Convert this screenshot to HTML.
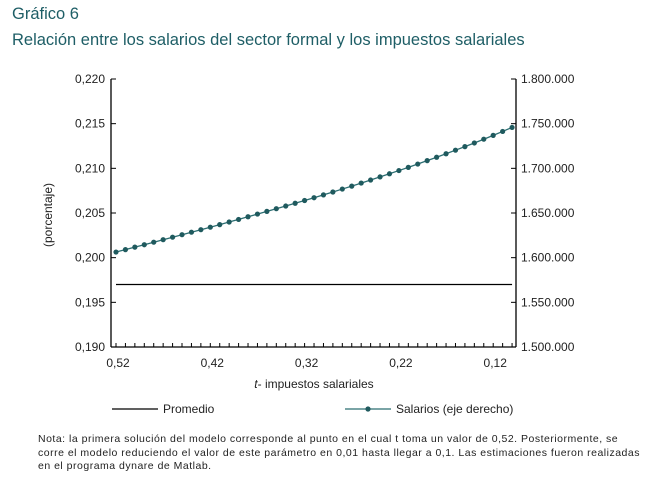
<!DOCTYPE html>
<html><head><meta charset="utf-8"><style>
body{margin:0;background:#fff;width:653px;height:484px;overflow:hidden;font-family:"Liberation Sans",sans-serif;}
.t{position:absolute;left:12px;color:#1e5e66;font-size:16.5px;}
.note{position:absolute;left:38px;top:433px;width:610px;font-size:10.5px;letter-spacing:0.5px;line-height:13.5px;color:#222;white-space:nowrap;}
</style></head><body>
<div class="t" style="top:5px">Gráfico 6</div>
<div class="t" style="top:31px">Relación entre los salarios del sector formal y los impuestos salariales</div>
<svg id="c" width="653" height="484" style="position:absolute;left:0;top:0" font-family="Liberation Sans, sans-serif"></svg>
<div class="note">Nota: la primera solución del modelo corresponde al punto en el cual t toma un valor de 0,52. Posteriormente, se<br>corre el modelo reduciendo el valor de este parámetro en 0,01 hasta llegar a 0,1. Las estimaciones fueron realizadas<br>en el programa dynare de Matlab.</div>
<script>
const xLabels=["0,52","0,42","0,32","0,22","0,12"];
const leftTicks=[0.190,0.195,0.200,0.205,0.210,0.215,0.220];
const rightTicks=[1500000,1550000,1600000,1650000,1700000,1750000,1800000];
const promedio=0.197;
const salarios=[1606300,1609000,1611800,1614500,1617300,1620100,1622900,1625700,1628500,1631300,1634100,1637000,1639900,1642800,1645800,1648800,1651800,1654800,1657800,1660900,1664000,1667100,1670300,1673500,1676800,1680100,1683500,1686900,1690400,1693900,1697500,1701100,1704800,1708600,1712400,1716300,1720300,1724300,1728400,1732600,1736900,1741300,1745800];
const svg=document.getElementById('c'),NS="http://www.w3.org/2000/svg";
const L=111,R=516,T=79,B=347,x0=116,dx=9.43;
const yL=v=>B-(v-0.19)/0.03*(B-T);
const yR=v=>B-(v-1500000)/300000*(B-T);
const xi=i=>x0+i*dx;
function mk(t,a){const e=document.createElementNS(NS,t);for(const k in a)e.setAttribute(k,a[k]);svg.appendChild(e);return e;}
let e;
e=mk('line',{x1:L,y1:T,x2:L,y2:B,stroke:'#000','stroke-width':1.3});

e=mk('line',{x1:R,y1:T,x2:R,y2:B,stroke:'#000','stroke-width':1.3});

e=mk('line',{x1:L,y1:B,x2:R,y2:B,stroke:'#000','stroke-width':1.3});

leftTicks.forEach(v=>{const y=yL(v);mk('line',{x1:L,y1:y,x2:L+5,y2:y,stroke:'#000'});
 e=mk('text',{x:L-6,y:y+4,'text-anchor':'end','font-size':12,fill:'#222'});e.textContent=v.toFixed(3).replace('.',',');
 });
rightTicks.forEach(v=>{const y=yR(v);mk('line',{x1:R-5,y1:y,x2:R,y2:y,stroke:'#000'});
 e=mk('text',{x:R+5,y:y+4,'font-size':12,fill:'#222'});e.textContent=v.toLocaleString('de-DE');
 });
salarios.forEach((v,i)=>mk('line',{x1:xi(i),y1:B,x2:xi(i),y2:B-4,stroke:'#000'}));
xLabels.forEach((s,k)=>{e=mk('text',{x:xi(k*10)+2,y:B+20,'text-anchor':'middle','font-size':12,fill:'#222'});e.textContent=s;
 });
e=mk('text',{x:314,y:388,'text-anchor':'middle','font-size':12,fill:'#222'});e.innerHTML='<tspan font-style="italic">t</tspan>- impuestos salariales';

e=mk('text',{x:0,y:0,'text-anchor':'middle','font-size':12,fill:'#222',transform:'translate(52,215) rotate(-90)'});e.textContent='(porcentaje)';

e=mk('line',{x1:xi(0),y1:yL(promedio),x2:xi(salarios.length-1),y2:yL(promedio),stroke:'#000','stroke-width':1.2});

e=mk('polyline',{points:salarios.map((v,i)=>xi(i)+','+yR(v)).join(' '),fill:'none',stroke:'#2b6e72','stroke-width':1.3});

salarios.forEach((v,i)=>{e=mk('circle',{cx:xi(i),cy:yR(v),r:2.6,fill:'#1f5a5e'});
 });
e=mk('line',{x1:112,y1:409,x2:158,y2:409,stroke:'#000','stroke-width':1.2});

e=mk('text',{x:163,y:413,'font-size':12,fill:'#222'});e.textContent='Promedio';

e=mk('line',{x1:345,y1:409,x2:391,y2:409,stroke:'#2b6e72','stroke-width':1.3});

mk('circle',{cx:368,cy:409,r:2.6,fill:'#1f5a5e'});
e=mk('text',{x:396,y:413,'font-size':12,fill:'#222'});e.textContent='Salarios (eje derecho)';

</script>
</body></html>
